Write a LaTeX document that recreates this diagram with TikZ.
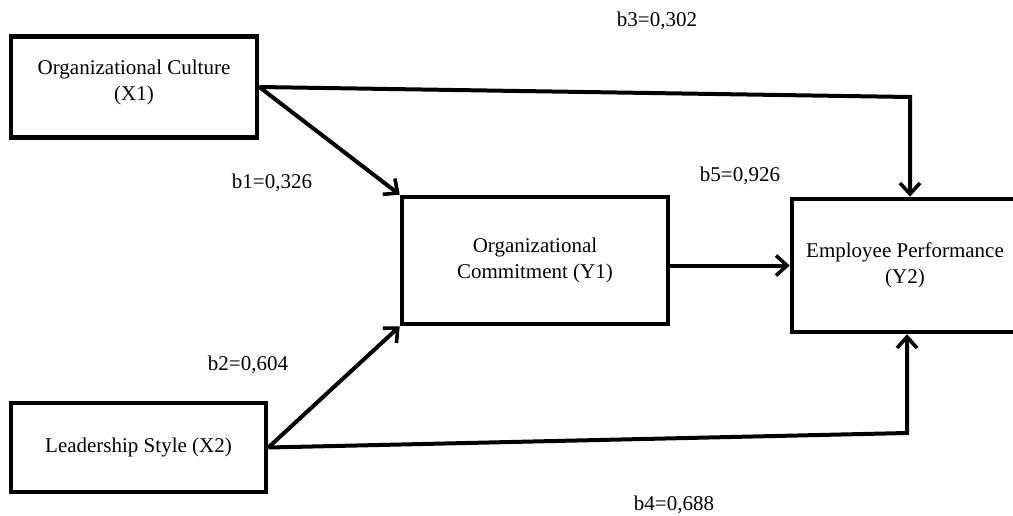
\documentclass[tikz,border=0pt]{standalone}
\usepackage{fontspec}
\setmainfont{Liberation Serif}
\usetikzlibrary{arrows.meta}
\begin{document}
\begin{tikzpicture}[x=1pt, y=-1pt, box/.style={rectangle, draw, line width=4.6pt, align=center, inner sep=0pt, font=\fontsize{21}{26}\selectfont}, lbl/.style={font=\fontsize{21}{24}\selectfont}, >={Straight Barb[length=11pt, width=20pt, line width=3.6pt]}, every path/.style={line width=4pt}]
        \useasboundingbox (0, 0) rectangle (1013, 515);
        \node[box, minimum width=246pt, minimum height=101pt, text depth=13pt] (x1) at (134, 87) {Organizational Culture\\(X1)};
        \node[box, minimum width=255pt, minimum height=89pt] (x2) at (138.5, 447.5) {Leadership Style (X2)};
        \node[box, minimum width=266pt, minimum height=127pt] (y1) at (535, 260.5) {Organizational\\Commitment (Y1)};
        \node[box, minimum width=226pt, minimum height=133pt] (y2) at (905, 265.5) {Employee Performance\\(Y2)};
        \coordinate (c1) at (910, 97);
        \coordinate (c2) at (907, 433);
        \draw[->] (x1.east) -- (y1.north west);
        \draw[->] (x1.east) -- (c1) -- (c1 |- y2.north);
        \draw[->] (y1.east |- y2.west) -- (y2.west);
        \draw[->] (x2.east) -- (y1.south west);
        \draw[->] (x2.east) -- (c2) -- (c2 |- y2.south);
        \node[lbl] (b3) at (657, 21) {b3=0,302};
        \node[lbl] (b1) at (272, 183) {b1=0,326};
        \node[lbl] (b5) at (740, 176) {b5=0,926};
        \node[lbl] (b2) at (248, 365) {b2=0,604};
        \node[lbl] (b4) at (674, 505) {b4=0,688};
    \end{tikzpicture}
\end{document}
